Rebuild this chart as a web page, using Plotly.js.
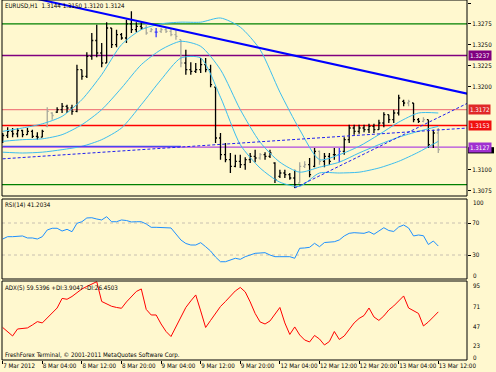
<!DOCTYPE html>
<html><head><meta charset="utf-8">
<script src="https://cdn.plot.ly/plotly-3.0.1.min.js"></script>
<style>html,body{margin:0;padding:0;background:#FFF8CF;}#chart{width:496px;height:372px;}</style>
</head><body><div id="chart"></div>
<script>
// ---------- data ----------
const xLabels = ['7 Mar 2012','8 Mar 04:00','8 Mar 12:00','8 Mar 20:00','9 Mar 04:00','9 Mar 12:00','9 Mar 20:00','12 Mar 04:00','12 Mar 12:00','12 Mar 20:00','13 Mar 04:00','13 Mar 12:00'];
const xLabelBars = [0,8,16,24,32,40,48,56,64,72,80,88];

const openP = [1.3134,1.3141,1.3146,1.3143,1.3147,1.3142,1.3146,1.3140,1.3139,1.3152,
1.3168,1.3169,1.3172,1.3176,1.3174,1.3170,1.3220,1.3212,1.3236,1.3255,
1.3240,1.3228,1.3270,1.3250,1.3262,1.3258,1.3275,1.3268,1.3272,1.3270,
1.3266,1.3265,1.3266,1.3268,1.3266,1.3262,1.3256,1.3228,1.3220,1.3218,
1.3220,1.3226,1.3220,1.3199,1.3138,1.3118,1.3112,1.3104,1.3110,1.3106,
1.3112,1.3116,1.3114,1.3118,1.3116,1.3108,1.3092,1.3096,1.3094,1.3090,
1.3084,1.3104,1.3106,1.3104,1.3122,1.3110,1.3116,1.3118,1.3118,1.3122,
1.3136,1.3150,1.3146,1.3150,1.3148,1.3152,1.3148,1.3156,1.3166,1.3160,
1.3168,1.3182,1.3180,1.3180,1.3160,1.3158,1.3160,1.3130,1.3144];
const highP = [1.3144,1.3151,1.3150,1.3150,1.3148,1.3150,1.3148,1.3145,1.3148,1.3175,
1.3169,1.3175,1.3180,1.3178,1.3178,1.3226,1.3220,1.3241,1.3264,1.3274,
1.3252,1.3277,1.3270,1.3268,1.3264,1.3280,1.3290,1.3277,1.3277,1.3276,
1.3270,1.3270,1.3270,1.3270,1.3270,1.3268,1.3256,1.3244,1.3229,1.3228,
1.3234,1.3234,1.3226,1.3199,1.3144,1.3132,1.3120,1.3118,1.3118,1.3115,
1.3120,1.3124,1.3120,1.3121,1.3124,1.3109,1.3100,1.3100,1.3096,1.3100,
1.3109,1.3110,1.3114,1.3126,1.3123,1.3120,1.3120,1.3126,1.3126,1.3139,
1.3154,1.3154,1.3154,1.3154,1.3155,1.3155,1.3160,1.3169,1.3166,1.3172,
1.3190,1.3184,1.3184,1.3180,1.3162,1.3163,1.3160,1.3148,1.3150];
const lowP = [1.3132,1.3138,1.3139,1.3139,1.3139,1.3142,1.3138,1.3136,1.3139,1.3151,
1.3160,1.3168,1.3168,1.3168,1.3166,1.3169,1.3208,1.3210,1.3232,1.3235,
1.3223,1.3228,1.3246,1.3247,1.3256,1.3252,1.3264,1.3265,1.3268,1.3262,
1.3265,1.3259,1.3264,1.3264,1.3260,1.3256,1.3223,1.3214,1.3214,1.3216,
1.3216,1.3217,1.3199,1.3132,1.3112,1.3109,1.3096,1.3103,1.3102,1.3100,
1.3108,1.3109,1.3112,1.3112,1.3114,1.3084,1.3090,1.3090,1.3088,1.3078,
1.3084,1.3102,1.3091,1.3103,1.3106,1.3103,1.3106,1.3112,1.3109,1.3118,
1.3132,1.3142,1.3143,1.3145,1.3144,1.3144,1.3148,1.3151,1.3156,1.3156,
1.3165,1.3176,1.3176,1.3157,1.3156,1.3157,1.3126,1.3126,1.3120];
const closeP = [1.3141,1.3146,1.3143,1.3147,1.3142,1.3146,1.3140,1.3139,1.3146,1.3170,
1.3165,1.3172,1.3176,1.3174,1.3170,1.3220,1.3212,1.3236,1.3255,1.3240,
1.3228,1.3270,1.3250,1.3262,1.3258,1.3275,1.3268,1.3272,1.3270,1.3264,
1.3268,1.3265,1.3268,1.3266,1.3262,1.3260,1.3228,1.3220,1.3218,1.3220,
1.3226,1.3220,1.3202,1.3138,1.3118,1.3112,1.3104,1.3110,1.3106,1.3112,
1.3116,1.3114,1.3118,1.3116,1.3120,1.3088,1.3096,1.3094,1.3090,1.3082,
1.3104,1.3106,1.3094,1.3122,1.3110,1.3116,1.3110,1.3118,1.3122,1.3136,
1.3150,1.3146,1.3150,1.3148,1.3152,1.3148,1.3156,1.3166,1.3160,1.3168,
1.3186,1.3180,1.3182,1.3160,1.3158,1.3160,1.3130,1.3144,1.3124];
const barColorKey = 'kkkkkkkkkggkkkkkkkkkkkkkkkkkkggbgggggkkkkkkkkkkkkkkkgkkkkkkkggkkgkkkbkkkkkkkkkkkkkgkkgkkggk';

const bandBars = [0,4,8,12,16,20,24,28,32,36,40,44,48,52,56,60,64,68,72,76,80,84,88];
const bbUpper = [1.3146,1.3150,1.3155,1.3164,1.3184,1.3214,1.3250,1.3268,1.3275,1.3277,1.3277,1.3282,1.3271,1.3244,1.3193,1.3148,1.3112,1.3118,1.3128,1.3142,1.3157,1.3168,1.3168];
const bbMiddle = [1.3134,1.3136,1.3137,1.3142,1.3154,1.3172,1.3198,1.3226,1.3244,1.3254,1.3248,1.3220,1.3172,1.3133,1.3109,1.3097,1.3103,1.3109,1.3120,1.3130,1.3139,1.3146,1.3152];
const bbLower = [1.3121,1.3120,1.3121,1.3124,1.3128,1.3136,1.3150,1.3178,1.3208,1.3234,1.3234,1.3187,1.3130,1.3102,1.3085,1.3080,1.3096,1.3096,1.3097,1.3102,1.3110,1.3121,1.3134];

const trendBars = [0,94];
const trendLine = [1.3314,1.3191];
const channelFlat = [1.3113,1.3150];
const channelBars2 = [59,94];
const channelSteep = [1.3078,1.3180];
const blueSegBars = [0,36];
const blueSegPrice = [1.3128,1.3128];

const levelValues = [1.3275,1.3237,1.3172,1.3153,1.3127,1.3082];
const levelColors = ['#008000','#800080','#F08080','#FF0000','#B048E0','#008000'];
const levelLabels = ['', '1.3237','1.3172','1.3153','1.3127',''];
const levelBoxColors = ['', '#800080','#E02828','#F01010','#A030D0',''];
const lastPrice = 1.3124;

// scale labels that remain visible (the others sit under the price boxes)
const priceTicks = [1.3300,1.3275,1.3250,1.3225,1.3200,1.3100,1.3075];

const rsi = [50.0,52.9,52.9,53.1,53.8,51.3,51.3,50.0,52.9,61.3,
63.4,63.4,60.0,62.1,59.1,69.6,71.6,76.3,76.6,75.0,
73.8,77.9,71.6,71.6,73.8,73.1,71.3,71.6,71.6,68.8,
64.6,64.6,64.6,64.4,63.8,56.3,48.8,44.4,42.5,42.5,
45.4,40.4,35.0,27.5,21.6,21.6,23.8,25.9,24.6,27.9,
30.0,32.1,32.5,32.9,30.0,27.9,27.9,27.9,27.9,25.9,
38.4,38.8,39.6,44.6,40.4,45.6,45.9,46.6,48.8,53.8,
57.1,57.9,57.5,57.1,59.1,55.9,60.0,64.1,60.6,59.4,
65.0,67.5,63.8,53.8,55.0,54.1,43.1,47.5,41.2];
const rsiLevels = [70,30];

const adx = [38.9,33.0,27.7,36.9,37.9,38.3,42.2,46.6,44.9,51.5,
58.0,64.6,77.2,76.1,79.8,84.4,89.7,93.0,96.3,99.3,
73.2,69.9,66.9,65.3,64.2,72.6,79.2,86.4,89.7,62.7,
55.4,55.4,43.5,33.6,27.0,40.2,53.4,65.3,73.9,81.8,
60.7,38.9,48.2,56.7,66.6,73.2,79.8,87.1,91.7,85.8,
72.6,57.4,46.2,43.5,47.5,56.7,65.3,44.9,29.7,39.6,
29.0,22.4,19.8,28.4,23.7,15.8,20.4,33.6,23.1,27.7,
36.9,44.9,50.8,54.7,64.6,52.8,48.2,54.1,62.0,67.3,
73.9,80.5,64.6,61.3,57.4,40.9,46.2,52.8,59.5];
const adxLabels = ['95','71','47','23','0'];

// ---------- drawing ----------
const W = 496, H = 372;
const FONT = '"Liberation Sans Narrow","DejaVu Sans Condensed","Liberation Sans",sans-serif';
const FS = 6.2;
const BG = '#FFF8CF';
const plotL = 2, plotR = 467;
const xd = [plotL/W, plotR/W];
const mainDom = [1-196/H, 1];
const rsiDom = [1-279/H, 1-199/H];
const adxDom = [1-360/H, 1-281/H];
const xRange = [-0.14, 93.8];
const yMain = [1.30684, 1.33036];
const bandColor = '#3CBEEE';

const n = closeP.length;
const idx = Array.from({length:n}, (_, i) => i);
const traces = [];

[bbUpper, bbMiddle, bbLower].forEach(arr => traces.push({
  type:'scatter', mode:'lines', x:bandBars, y:arr, xaxis:'x', yaxis:'y',
  line:{color:bandColor, width:1, shape:'spline', smoothing:0.7}, hoverinfo:'skip'}));

traces.push({type:'scatter', mode:'lines', x:blueSegBars, y:blueSegPrice, xaxis:'x', yaxis:'y',
  line:{color:'#4848F0', width:1.2}, hoverinfo:'skip'});
traces.push({type:'scatter', mode:'lines', x:trendBars, y:channelFlat, xaxis:'x', yaxis:'y',
  line:{color:'#2020F0', width:1, dash:'3px,2px'}, hoverinfo:'skip'});
traces.push({type:'scatter', mode:'lines', x:channelBars2, y:channelSteep, xaxis:'x', yaxis:'y',
  line:{color:'#2020F0', width:1, dash:'3px,2px'}, hoverinfo:'skip'});

const groups = [['k','#000000'],['g','#A8A89C'],['b','#3838FF']];
groups.forEach(([key,color]) => {
  const sel = idx.filter(i => barColorKey[i] === key);
  traces.push({type:'ohlc', x:sel, open:sel.map(i=>openP[i]), high:sel.map(i=>highP[i]),
    low:sel.map(i=>lowP[i]), close:sel.map(i=>closeP[i]), xaxis:'x', yaxis:'y', tickwidth:0.3,
    increasing:{line:{color:color, width:1.3}}, decreasing:{line:{color:color, width:1.3}}, hoverinfo:'skip'});
});

traces.push({type:'scatter', mode:'lines', x:trendBars, y:trendLine, xaxis:'x', yaxis:'y',
  line:{color:'#0000FF', width:2}, hoverinfo:'skip'});

traces.push({type:'scatter', mode:'lines', x:idx, y:rsi, xaxis:'x2', yaxis:'y2',
  line:{color:'#1E90FF', width:1}, hoverinfo:'skip'});
traces.push({type:'scatter', mode:'lines', x:idx, y:adx, xaxis:'x3', yaxis:'y3',
  line:{color:'#FF0000', width:1}, hoverinfo:'skip'});

const shapes = [];
levelValues.forEach((v,k) => shapes.push({type:'line', xref:'paper', yref:'y', x0:xd[0], x1:xd[1], y0:v, y1:v,
  line:{color:levelColors[k], width:1.3}, layer:'below'}));
rsiLevels.forEach(v => shapes.push({type:'line', xref:'paper', yref:'y2', x0:xd[0], x1:xd[1], y0:v, y1:v,
  line:{color:'#C8C0B0', width:1, dash:'dot'}, layer:'below'}));
[mainDom, rsiDom, adxDom].forEach(d => shapes.push({type:'rect', xref:'paper', yref:'paper',
  x0:xd[0], x1:xd[1], y0:d[0], y1:d[1], line:{color:'#000000', width:1}}));
// last-price marker peeking out under the 1.3127 box
shapes.push({type:'rect', xref:'paper', yref:'y', x0:(plotR+1)/W, x1:494/W,
  y0:lastPrice-0.00045, y1:lastPrice+0.00030, fillcolor:'#000000', line:{width:0}});

const annotations = [];
const txt = (text, x, y, opts={}) => annotations.push(Object.assign({text, xref:'paper', yref:'paper',
  x:x/W, y:1-y/H, xanchor:'left', yanchor:'middle', showarrow:false,
  font:{family:FONT, size:FS, color:'#000'}}, opts));
txt('EURUSD,H1  1.3144 1.3150 1.3120 1.3124', 3, 6);
txt('RSI(14) 41.2034', 3, 205);
txt('ADX(5) 59.5396 +DI:3.9047 -DI:26.4503', 3, 287);
txt('FreshForex Terminal, © 2001-2011 MetaQuotes Software Corp.', 3, 355);
txt('100', 471, 202);
txt('0', 471, 275);
const adxLabelY = [285, 306.5, 326, 345.5, 357];
adxLabels.forEach((t,k) => txt(t, 471, adxLabelY[k]));

levelValues.forEach((v,k) => { if (levelLabels[k]) annotations.push({text:levelLabels[k], xref:'paper', yref:'y',
  x:(plotR+1)/W, y:v, xanchor:'left', yanchor:'middle', showarrow:false, bgcolor:levelBoxColors[k], borderpad:1,
  font:{family:FONT, size:FS, color:'#FFFFFF'}}); });

const axBase = {showgrid:false, zeroline:false, showline:false, color:'#000', tickcolor:'#000',
  tickfont:{family:FONT, size:FS, color:'#000'}};
const layout = {
  width:W, height:H, margin:{l:0,r:0,t:0,b:0}, paper_bgcolor:BG, plot_bgcolor:BG, showlegend:false,
  font:{family:FONT, size:FS, color:'#000'}, hovermode:false,
  xaxis:Object.assign({}, axBase, {domain:xd, range:xRange, anchor:'y', showticklabels:false, ticks:'', rangeslider:{visible:false}}),
  yaxis:Object.assign({}, axBase, {domain:mainDom, range:yMain, side:'right', anchor:'x',
    tickvals:priceTicks, tickformat:'.4f', ticks:'outside', ticklen:3}),
  xaxis2:Object.assign({}, axBase, {domain:xd, range:xRange, anchor:'y2', showticklabels:false, ticks:''}),
  yaxis2:Object.assign({}, axBase, {domain:rsiDom, range:[0,100], side:'right', anchor:'x2',
    tickvals:rsiLevels, ticks:'outside', ticklen:3}),
  xaxis3:Object.assign({}, axBase, {domain:xd, range:xRange, anchor:'y3', tickvals:xLabelBars, ticktext:xLabels,
    ticks:'outside', ticklen:3, tickangle:0, ticklabelposition:'outside right', automargin:false}),
  yaxis3:Object.assign({}, axBase, {domain:adxDom, range:[-4,100.2], side:'right', anchor:'x3',
    showticklabels:false, ticks:''}),
  shapes, annotations
};
Plotly.newPlot('chart', traces, layout, {staticPlot:true, displayModeBar:false});
</script></body></html>
